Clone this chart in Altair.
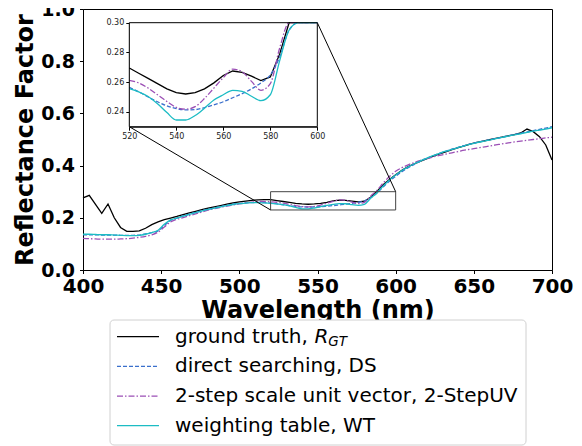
import altair as alt
import pandas as pd

# ---------------- data ----------------
wavelength = list(range(400, 701, 4))

ground_truth = [
    0.276, 0.286, 0.251, 0.217, 0.253, 0.200, 0.163, 0.148, 0.148, 0.150,
    0.160, 0.174, 0.184, 0.193, 0.199, 0.205, 0.212, 0.219, 0.225, 0.231,
    0.237, 0.242, 0.247, 0.252, 0.257, 0.261, 0.264, 0.267, 0.269, 0.270,
    0.2695, 0.266, 0.2625, 0.259, 0.2555, 0.253, 0.252, 0.253, 0.2555, 0.2595,
    0.2645, 0.2675, 0.2665, 0.264, 0.261, 0.2635, 0.279, 0.301, 0.327, 0.347,
    0.365, 0.382, 0.396, 0.407, 0.417, 0.427, 0.436, 0.445, 0.453, 0.461,
    0.469, 0.476, 0.483, 0.489, 0.494, 0.499, 0.504, 0.509, 0.514, 0.519,
    0.525, 0.540, 0.530, 0.511, 0.479, 0.421,
]
direct_search = [
    0.135, 0.135, 0.135, 0.134, 0.134, 0.134, 0.133, 0.133, 0.133, 0.134,
    0.138, 0.143, 0.150, 0.170, 0.190, 0.199, 0.207, 0.214, 0.221, 0.227,
    0.233, 0.238, 0.243, 0.248, 0.252, 0.255, 0.257, 0.258, 0.259, 0.258,
    0.2565, 0.2535, 0.250, 0.2468, 0.244, 0.2422, 0.2413, 0.2415, 0.2428, 0.2447,
    0.2468, 0.2495, 0.2522, 0.2555, 0.2595, 0.2648, 0.277, 0.295, 0.318, 0.340,
    0.359, 0.377, 0.392, 0.405, 0.417, 0.428, 0.438, 0.447, 0.455, 0.463,
    0.470, 0.477, 0.483, 0.489, 0.494, 0.499, 0.504, 0.509, 0.514, 0.519,
    0.524, 0.529, 0.534, 0.539, 0.544, 0.549,
]
two_step_uv = [
    0.121, 0.120, 0.119, 0.118, 0.118, 0.118, 0.119, 0.120, 0.122, 0.125,
    0.129, 0.135, 0.145, 0.165, 0.184, 0.194, 0.201, 0.208, 0.215, 0.222,
    0.229, 0.235, 0.240, 0.245, 0.249, 0.253, 0.257, 0.260, 0.2625, 0.2625,
    0.2612, 0.2595, 0.256, 0.2515, 0.247, 0.243, 0.2418, 0.2435, 0.249, 0.256,
    0.263, 0.2688, 0.267, 0.2605, 0.2545, 0.259, 0.283, 0.305, 0.333, 0.358,
    0.378, 0.392, 0.403, 0.412, 0.420, 0.427, 0.433, 0.439, 0.444, 0.449,
    0.454, 0.459, 0.463, 0.467, 0.471, 0.475, 0.479, 0.483, 0.487, 0.491,
    0.494, 0.497, 0.500, 0.503, 0.506, 0.509,
]
weighting_table = [
    0.137, 0.137, 0.136, 0.135, 0.135, 0.134, 0.133, 0.132, 0.132, 0.133,
    0.137, 0.143, 0.152, 0.175, 0.192, 0.199, 0.206, 0.213, 0.220, 0.226,
    0.232, 0.237, 0.242, 0.247, 0.251, 0.254, 0.256, 0.258, 0.258, 0.257,
    0.2556, 0.2535, 0.2503, 0.2455, 0.2395, 0.2345, 0.2345, 0.2375, 0.2425, 0.248,
    0.2515, 0.2545, 0.2538, 0.2505, 0.2475, 0.2515, 0.2745, 0.295, 0.322, 0.345,
    0.364, 0.381, 0.395, 0.407, 0.418, 0.429, 0.438, 0.447, 0.455, 0.462,
    0.469, 0.476, 0.482, 0.488, 0.493, 0.498, 0.503, 0.508, 0.513, 0.518,
    0.522, 0.527, 0.532, 0.536, 0.540, 0.545,
]

legend_labels = [
    "ground truth, ",
    "direct searching, DS",
    "2-step scale unit vector, 2-StepUV",
    "weighting table, WT",
]
x_ticks = [400, 450, 500, 550, 600, 650, 700]
y_ticks = [0.0, 0.2, 0.4, 0.6, 0.8, 1.0]
inset_x_ticks = [520, 540, 560, 580, 600]
inset_y_ticks = [0.24, 0.26, 0.28, 0.30]
zoom_x = [520, 600]
zoom_y = [0.23, 0.30]

# ---------------- layout ----------------
W, H = 469, 261
INSET_X = [46.3, 234.3]     # pixel range of the inset inside the plot
INSET_Y = [117.7, 13.7]
FONT = "DejaVu Sans"

series = [
    (ground_truth, "black", None, "linear"),
    (direct_search, "#3a6fcc", [4, 2], "monotone"),
    (two_step_uv, "#9b4fb5", [6, 2, 1.5, 2], "monotone"),
    (weighting_table, "#1cbcc4", None, "monotone"),
]

# ---------------- main panel ----------------
xs = alt.Scale(domain=[400, 700], nice=False, zero=False)
ys = alt.Scale(domain=[0, 1], nice=False, zero=False)
x_axis = alt.Axis(values=x_ticks, labelFontSize=20, labelFontWeight="bold",
                  labelFont=FONT, titleFont=FONT, titleFontSize=24,
                  titleFontWeight="bold", tickSize=3.5, labelPadding=2.5,
                  titlePadding=2, labelFlush=False, labelOverlap=False,
                  grid=False)
y_axis = alt.Axis(values=y_ticks, format=".1f", labelFontSize=19,
                  labelFontWeight="bold", labelFont=FONT, titleFont=FONT,
                  titleFontSize=24, titleFontWeight="bold", tickSize=3.5,
                  labelPadding=5, titlePadding=3, labelFlush=False,
                  labelOverlap=False, grid=False)
XT = "Wavelength (nm)"
YT = "Reflectance Factor"


def mx(field):
    return alt.X(field, type="quantitative", scale=xs, axis=x_axis, title=XT)


def my(field):
    return alt.Y(field, type="quantitative", scale=ys, axis=y_axis, title=YT)


main_layers = []
for vals, color, dash, interp in series:
    d = pd.DataFrame({"wl": wavelength, "value": vals})
    kw = dict(color=color, strokeWidth=1.3, interpolate=interp)
    if dash:
        kw["strokeDash"] = dash
    main_layers.append(alt.Chart(d).mark_line(**kw).encode(x=mx("wl"), y=my("value")))

zoom_box = pd.DataFrame({"wl": [zoom_x[0]], "wl2": [zoom_x[1]],
                         "value": [zoom_y[0]], "value2": [zoom_y[1]]})
main_layers.append(
    alt.Chart(zoom_box).mark_rect(fillOpacity=0, stroke="#444444", strokeWidth=1)
    .encode(x=mx("wl"), x2=alt.X2("wl2"), y=my("value"), y2=alt.Y2("value2"))
)


def px_to_x(px):
    return 400 + px / W * 300


def py_to_y(py):
    return (H - py) / H


connectors = pd.DataFrame({
    "wl": [zoom_x[0], zoom_x[1]],
    "value": [zoom_y[0], zoom_y[1]],
    "wl2": [px_to_x(INSET_X[0]), px_to_x(INSET_X[1])],
    "value2": [py_to_y(INSET_Y[0]), py_to_y(INSET_Y[1])],
})
main_layers.append(
    alt.Chart(connectors).mark_rule(color="black", strokeWidth=1)
    .encode(x=mx("wl"), x2=alt.X2("wl2"), y=my("value"), y2=alt.Y2("value2"))
)
main = alt.layer(*main_layers)

# ---------------- inset ----------------
ixs = alt.Scale(domain=zoom_x, range=INSET_X, nice=False, zero=False, clamp=True)
iys = alt.Scale(domain=zoom_y, range=INSET_Y, nice=False, zero=False, clamp=True)
ix_axis = alt.Axis(orient="bottom", offset=INSET_Y[0] - H, values=inset_x_ticks,
                   labelFontSize=8, labelFont=FONT, labelFontWeight="normal",
                   labelColor="#222222", tickSize=3.5, labelPadding=2,
                   labelFlush=False, labelOverlap=False, grid=False, title=None)
iy_axis = alt.Axis(orient="left", offset=-INSET_X[0], values=inset_y_ticks,
                   format=".2f", labelFontSize=8, labelFont=FONT,
                   labelFontWeight="normal", labelColor="#222222", tickSize=3.5,
                   labelPadding=2, labelFlush=False, labelOverlap=False,
                   grid=False, title=None)


def ix(field):
    return alt.X(field, type="quantitative", scale=ixs, axis=ix_axis, title=None)


def iy(field):
    return alt.Y(field, type="quantitative", scale=iys, axis=iy_axis, title=None)


inset_layers = [
    alt.Chart(zoom_box).mark_rect(fill="white", strokeOpacity=0)
    .encode(x=ix("wl"), x2=alt.X2("wl2"), y=iy("value"), y2=alt.Y2("value2"))
]
for vals, color, dash, interp in series:
    d = pd.DataFrame({"wl": wavelength, "value": vals})
    kw = dict(color=color, strokeWidth=1.3, interpolate=interp)
    if dash:
        kw["strokeDash"] = dash
    inset_layers.append(
        alt.Chart(d).mark_line(**kw)
        .transform_filter((alt.datum.wl >= zoom_x[0]) & (alt.datum.wl <= zoom_x[1]))
        .encode(x=ix("wl"), y=iy("value"))
    )
inset_layers.append(
    alt.Chart(zoom_box).mark_rect(fillOpacity=0, stroke="black", strokeWidth=1)
    .encode(x=ix("wl"), x2=alt.X2("wl2"), y=iy("value"), y2=alt.Y2("value2"))
)
inset = alt.layer(*inset_layers)

# ---------------- legend (drawn by hand for the subscript) ----------------
LEG_Y = [327.7, 416.7]
ls = alt.Scale(domain=[0, 3], range=LEG_Y, nice=False, zero=False)
ly = alt.Y("idx:Q", scale=ls, axis=None)
legend_layers = [
    alt.Chart(pd.DataFrame({"idx": [0]})).mark_rect(
        fill="white", stroke="#d0d0d0", strokeWidth=1, cornerRadius=4)
    .encode(x=alt.value(27), x2=alt.value(443), y=alt.value(311), y2=alt.value(436))
]
for i, (vals, color, dash, interp) in enumerate(series):
    kw = dict(color=color, strokeWidth=1.3)
    if dash:
        kw["strokeDash"] = dash
    legend_layers.append(
        alt.Chart(pd.DataFrame({"idx": [i]})).mark_rule(**kw)
        .encode(x=alt.value(34), x2=alt.value(76), y=ly)
    )
leg_df = pd.DataFrame({"idx": [0, 1, 2, 3], "label": legend_labels})
legend_layers.append(
    alt.Chart(leg_df).mark_text(align="left", baseline="middle", font=FONT,
                                fontSize=20, color="black")
    .encode(x=alt.value(92), y=ly, text="label:N")
)
legend_layers.append(
    alt.Chart(pd.DataFrame({"idx": [0], "t": ["R"]}))
    .mark_text(align="left", baseline="middle", font=FONT, fontSize=20,
               fontStyle="italic", color="black")
    .encode(x=alt.value(231.4), y=ly, text="t:N")
)
legend_layers.append(
    alt.Chart(pd.DataFrame({"idx": [0], "t": ["GT"]}))
    .mark_text(align="left", baseline="middle", font=FONT, fontSize=13.5,
               fontStyle="italic", color="black", dy=5)
    .encode(x=alt.value(245.2), y=ly, text="t:N")
)
legend = alt.layer(*legend_layers)

chart = (
    alt.layer(main, inset, legend)
    .resolve_scale(x="independent", y="independent")
    .properties(width=W, height=H,
                padding={"left": 75, "top": 1, "right": 22, "bottom": 180},
                autosize=alt.AutoSizeParams(type="none"))
    .configure_view(stroke="black", strokeWidth=1)
    .configure_axis(domainColor="black", tickColor="black", labelColor="black",
                    titleColor="black", domainWidth=1, tickWidth=1)
)

chart.save("out.html", embed_options={"renderer": "svg", "actions": False})
